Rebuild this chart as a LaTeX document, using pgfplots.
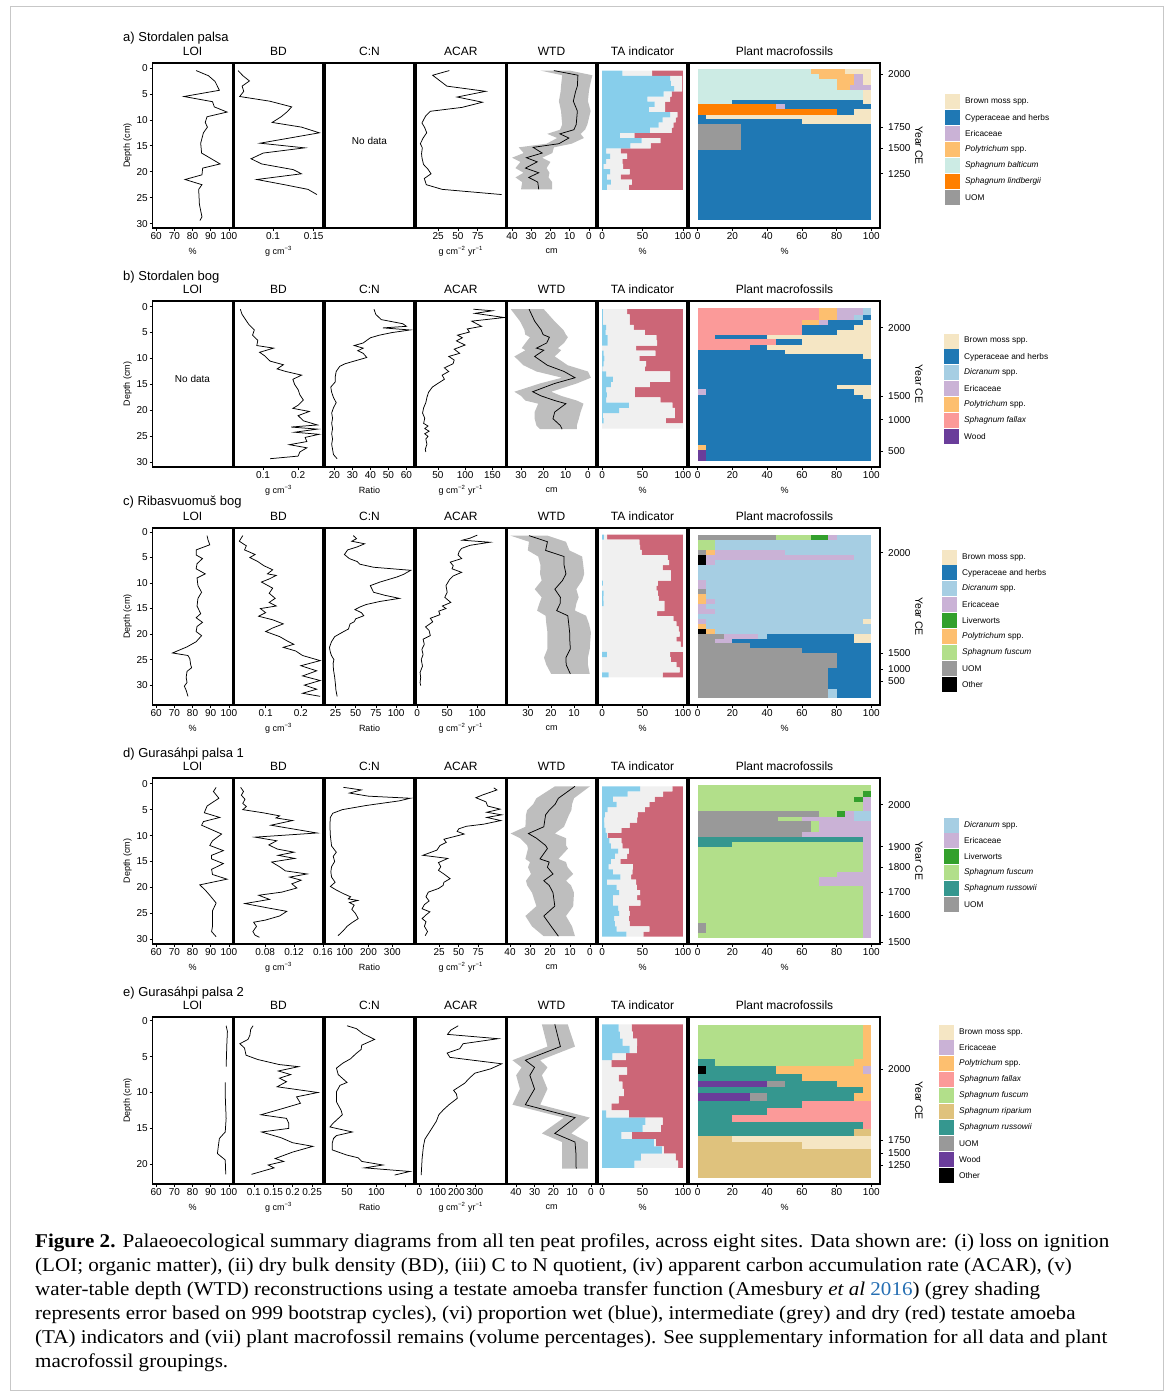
\documentclass[border=0pt]{standalone}
\usepackage{pgfplots}
\pgfplotsset{compat=1.18}
\usepackage{pgfplotstable}
\usepackage{fontspec}
\setmainfont{Liberation Sans}
\newfontfamily\capfont[FakeStretch=1.08]{Liberation Serif}

\definecolor{bro}{RGB}{245,230,196}
\definecolor{cyp}{RGB}{31,120,180}
\definecolor{dic}{RGB}{166,206,227}
\definecolor{eri}{RGB}{202,178,214}
\definecolor{liv}{RGB}{51,160,44}
\definecolor{pol}{RGB}{253,191,111}
\definecolor{bal}{RGB}{204,235,228}
\definecolor{lin}{RGB}{255,127,0}
\definecolor{uom}{RGB}{153,153,153}
\definecolor{fal}{RGB}{251,154,153}
\definecolor{woo}{RGB}{106,61,154}
\definecolor{fus}{RGB}{178,223,138}
\definecolor{rus}{RGB}{53,151,143}
\definecolor{rip}{RGB}{223,194,125}
\definecolor{oth}{RGB}{0,0,0}
\definecolor{wet}{RGB}{135,206,235}
\definecolor{mid}{RGB}{240,240,240}
\definecolor{dry}{RGB}{204,102,119}
\definecolor{band}{RGB}{190,190,190}
\definecolor{link}{RGB}{37,110,178}

\newcommand\tkf{\fontsize{10}{12}\selectfont}
\newcommand\ttlf{\fontsize{12}{14}\selectfont}
\newcommand\unf{\fontsize{9}{11}\selectfont}
\newcommand\lgf{\fontsize{8.3}{10}\selectfont}
\newcommand\rlf{\fontsize{13}{15}\selectfont}
\newcommand\yrf{\fontsize{10.5}{12}\selectfont}

\newcommand\R[5]{\addplot[fill=#1,draw=none] coordinates {(#2,#4) (#3,#4) (#3,#5) (#2,#5)};}

\pgfplotsset{
 base/.style={scale only axis, y dir=reverse, axis line style={line width=1.4pt},
  tick style={black, line width=0.6pt}, tick align=outside, major tick length=3pt,
  xtick=\empty, ytick=\empty, xtick pos=bottom, ytick pos=left, clip mode=individual,
  xticklabel style={font=\tkf, inner sep=0pt, yshift=-1pt},
  yticklabel style={font=\tkf, inner sep=0pt},
  title style={font=\ttlf, at={(axis description cs:0.5,1)}, anchor=center, yshift=6pt},
  xlabel style={font=\unf, at={(axis description cs:0.5,0)}, anchor=center, yshift=-23pt},
  no markers, axis on top},
 pos/.style 2 args={at={(#1pt,-#2pt)}, anchor=north west},
 rowa/.style={height=165pt, ymin=-0.96, ymax=30.85},
 rowb/.style={height=166pt, ymin=-1.08, ymax=30.9},
 rowc/.style={height=177pt, ymin=-0.79, ymax=33.9},
 rowd/.style={height=166pt, ymin=-1.1, ymax=30.9},
 rowe/.style={height=167pt, ymin=-0.52, ymax=22.75},
 loi/.style={width=80pt, xmin=58, xmax=102, title=LOI, ylabel={Depth (cm)},
  ylabel style={font=\unf, at={(axis description cs:0,0.5)}, anchor=center, yshift=25pt},
  yticklabel style={xshift=-1.5pt}},
 loix/.style={xtick={60,70,80,90,100}, xticklabels={60,70,80,90,100}, xlabel={\%}},
 y30/.style={ytick={0,5,10,15,20,25,30}, yticklabels={0,5,10,15,20,25,30}},
 bd/.style={width=89pt, title=BD, xlabel={g cm\textsuperscript{−3}}},
 cn/.style={width=89pt, title=C:N, xlabel={Ratio}},
 acar/.style={width=89.5pt, title=ACAR, xlabel={g cm\textsuperscript{−2} yr\textsuperscript{−1}}},
 wtd/.style={width=89pt, title=WTD, xlabel={cm}, x dir=reverse},
 ta/.style={width=89pt, title=TA indicator, xlabel={\%}, xmin=-5, xmax=105, xtick={0,50,100}, xticklabels={0,50,100}, xbar stacked, bar width=1},
 pm/.style={width=191pt, title=Plant macrofossils, xlabel={\%}, xmin=-5, xmax=105, xtick={0,20,40,60,80,100}, xticklabels={0,20,40,60,80,100}, ytick pos=right, yticklabel pos=right, yticklabel style={xshift=5pt}},
 ln/.style={black, line width=0.75pt},
}

% ---------- WTD line tables (depth, reconstructed WTD)
\pgfplotstableread[row sep=\\]{d w\\
0.5 18.2\\ 1.4 5.7\\ 3.5 6.0\\ 4.5 6.9\\ 6.4 8.1\\ 8.3 6.0\\ 10.9 6.6\\ 11.9 7.8\\ 12.7 15.1\\ 13.5 10.4\\ 14.6 15.6\\ 15.3 29.0\\
16.4 24.3\\ 17.3 32.5\\ 18.1 26.9\\ 19.3 33.0\\ 20.2 26.1\\ 21.1 31.3\\ 22.0 26.6\\ 23.4 26.1\\}\WTDa
\pgfplotstableread[row sep=\\]{d w\\
0.5 26.4\\ 2.8 23.9\\ 4.5 21\\ 5.4 20.1\\ 5.9 17.3\\ 7.0 18.5\\ 8.0 23.1\\ 8.4 19.8\\ 9.6 23.9\\ 11.3 18.2\\ 12.5 10.7\\ 13.7 5.8\\
14.8 14.9\\ 16.4 24.8\\ 17.2 21\\ 18.1 14.9\\ 18.7 9.9\\ 20.3 14.9\\ 21.6 15.7\\ 22.9 12.4\\ 23.6 11.6\\}\WTDb
\pgfplotstableread[row sep=\\]{d w\\
0.7 29.5\\ 1.9 21.5\\ 3.6 22.3\\ 4.8 14.3\\ 6.5 14.3\\ 8.2 13.5\\ 9.5 15\\ 11.2 18.3\\ 12.8 15.9\\ 14.0 16\\ 15.4 17.5\\ 16.4 12.7\\
18.0 12.3\\ 19.7 11.9\\ 21.5 11.8\\ 22.9 11.6\\ 24.6 13.5\\ 26.0 13.4\\ 27.8 11.6\\}\WTDc
\pgfplotstableread[row sep=\\]{d w\\
0.5 7.5\\ 2.8 15.8\\ 4.0 17.5\\ 5.1 20.4\\ 6.0 22.2\\ 8.3 23.1\\ 9.6 30.8\\ 10.5 26.8\\ 11.9 22.2\\ 12.5 21.3\\ 14.5 25\\ 15.1 20.4\\
16.1 21.3\\ 17.4 18.5\\ 18.7 23.1\\ 19.6 20.4\\ 21.0 18.5\\ 23.6 17.6\\ 25.5 23.1\\ 27.5 19.4\\ 29.4 15.8\\}\WTDd
\pgfplotstableread[row sep=\\]{d w\\
0.5 19.3\\ 3.6 16.3\\ 5.5 35\\ 6.5 30.1\\ 7.6 32.6\\ 9.5 30.1\\ 11.7 35\\ 13.5 8.5\\ 15.7 19.3\\ 16.9 8.5\\ 18.5 8\\ 20.6 7.9\\}\WTDe

% ---------- TA tables (depth, wet, intermediate, dry)
\pgfplotstableread[row sep=\\]{d b g r\\
1 25 37 38\\ 2 84 15 1\\ 3 85 14 1\\ 4 89 10 1\\ 5 76 10 14\\ 6 56 28 16\\ 7 65 13 22\\ 8 58 20 22\\ 9 84 9 7\\
10 75 16 9\\ 11 70 18 12\\ 12 59 27 14\\ 13 22 18 60\\ 14 49 23 28\\ 15 35 25 40\\ 16 5 18 77\\ 17 10 21 69\\
18 5 20 75\\ 19 2 24 74\\ 20 10 24 66\\ 21 6 17 77\\ 22 11 26 63\\ 23 6 27 67\\}\TAa
\pgfplotstableread[row sep=\\]{d b g r\\
1 1 30 69\\ 2 1 33 66\\ 3 1 33 66\\ 4 5 34 61\\ 5 4.5 48.5 47\\ 6 7 60 33\\ 7 7 61 32\\ 8 0 42 58\\ 9 2 64 34\\
10 3 43 54\\ 11 2 52.5 45.5\\ 12 0.5 52.5 47\\ 13 5 79 16\\ 14 13.5 70.5 16\\ 15 11 48 41\\ 16 5 35.5 59.5\\
17 6 34.5 59.5\\ 18 5 67 28\\ 19 33 54 13\\ 20 21 69 10\\ 21 1 89 10\\ 22 2 77 21\\ 23 0 100 0\\}\TAb
\pgfplotstableread[row sep=\\]{d b g r\\
1 2.3 4.1 93.6\\ 2 0 46 54\\ 3 0 47 53\\ 4 0 49 51\\ 5 0 81 19\\ 6 0 83 17\\ 7 0 75 25\\ 8 0 85 15\\ 9 0 85 15\\
10 1 68 31\\ 11 0 67 33\\ 12 2 67 31\\ 13 1.5 68.5 30\\ 14 2 75 23\\ 15 0 77 23\\ 16 0 68 32\\ 17 0 88 12\\
18 0 92 8\\ 19 0 94.5 5.5\\ 20 0 96 4\\ 21 0 92 8\\ 22 0 97 3\\ 23 0 100 0\\ 24 6 78 16\\ 25 0 85 15\\ 26 0 92 8\\
27 0 96 4\\ 28 8 67 25\\}\TAc
\pgfplotstableread[row sep=\\]{d b g r\\
1 47 40 13\\ 2 31.5 44 24.5\\ 3 13.5 51.5 35\\ 4 18 40.5 41.5\\ 5 7 46 47\\ 6 3.5 40.5 56\\ 7 2.5 41 56.5\\
8 3 31 66\\ 9 4.5 19.5 76\\ 10 6 1 93\\ 11 9 15 76\\ 12 11 14 75\\ 13 20 13 67\\ 14 16 15 69\\ 15 11 11.5 77.5\\
16 8 30 62\\ 17 13.5 24 62.5\\ 18 22.5 13.5 64\\ 19 6 36 58\\ 20 18 25 57\\ 21 21 26 53\\ 22 13.5 30 56.5\\
23 13.5 34 52.5\\ 24 20 13 67\\ 25 21 13 66\\ 26 15 18 67\\ 27 16 18 66\\ 28 18 40.5 41.5\\ 29 30 21 49\\}\TAd
\pgfplotstableread[row sep=\\]{d b g r\\
1 20.5 16 63.5\\ 2 22 16 62\\ 3 25.5 18 56.5\\ 4 34 9 57\\ 5 12.7 16.8 70.5\\ 6 0 11.4 88.6\\ 7 0 31 69\\
8 0 20.5 79.5\\ 9 0 25 75\\ 10 0 27 73\\ 11 0 20.5 79.5\\ 12 0 11.4 88.6\\ 13 5 28 67\\ 14 53.6 21.4 25\\
15 50 22.7 27.3\\ 16 24 12.8 63.2\\ 17 64 2.4 33.6\\ 18 74 2.4 23.6\\ 19 48 43 9\\ 20 40 54 6\\}\TAe

\newcommand\LE[3]{\fill[#1] (0,{#2*15.9-7.5}) rectangle (15,{#2*15.9+7.5});
 \node[anchor=west,inner sep=0pt,font=\lgf] at (20,{#2*15.9}) {#3};}

\begin{document}
\begin{tikzpicture}
\path[use as bounding box] (0pt,0pt) rectangle (1170pt,-1394pt);
\draw[black!22, line width=1pt] (10.5pt,-6.5pt) rectangle (1163pt,-1390.5pt);

% ================= ROW A =================
\node[anchor=west,inner sep=0pt,font=\rlf] at (123pt,-38pt) {a) Stordalen palsa};
\begin{axis}[base,rowa,pos={152.5}{63},loi,loix,y30]
\addplot[ln] table[x index=1,y index=0,row sep=\\]{0.5 82\\1.5 88.8\\2.6 92.4\\4.3 94.8\\5.5 75.3\\6.5 91\\7.5 92\\8.5 99\\9.4 88\\10.5 87\\11.4 88.2\\12.5 86\\14.5 84.5\\16.4 85\\18.5 95.2\\19.3 85.6\\20.6 85.2\\21.5 75.9\\22.5 85.2\\23.4 83.4\\26.3 83.8\\28.7 85.2\\29.4 84.1\\};
\end{axis}
\begin{axis}[base,rowa,pos={234}{63},bd,xmin=0.052,xmax=0.1615,xtick={0.1,0.15},xticklabels={0.1,0.15}]
\addplot[ln] table[x index=1,y index=0,row sep=\\]{0.5 0.057\\1.5 0.063\\2.5 0.071\\3.5 0.062\\4.5 0.064\\5.5 0.059\\6.4 0.096\\7.5 0.123\\8.5 0.117\\9.4 0.110\\10.5 0.099\\11.4 0.135\\12.5 0.157\\14.5 0.084\\15.4 0.139\\16.4 0.088\\17.5 0.073\\18.5 0.086\\19.6 0.125\\20.4 0.135\\21.5 0.080\\22.5 0.114\\23.4 0.143\\24.4 0.154\\};
\end{axis}
\begin{axis}[base,rowa,pos={325}{63},width=89pt,title=C:N,xmin=0,xmax=1]
\node[font=\tkf] at (axis description cs:0.5,0.53) {No data};
\end{axis}
\begin{axis}[base,rowa,pos={416}{63},acar,xmin=-3,xmax=110,xtick={25,50,75},xticklabels={25,50,75}]
\addplot[ln] table[x index=1,y index=0,row sep=\\]{0.5 39\\1.4 18\\3.5 36\\4.5 85\\5.6 49\\6.6 81\\7.6 55\\8.35 15\\9.3 9\\10.6 4.5\\11.5 8\\12.5 10.5\\13.5 6\\14.6 2.5\\15.4 5\\16.5 4\\17.3 4.5\\18.6 6.5\\19.5 12\\20.4 16\\21.3 7.5\\22.5 10\\23.4 30\\24.4 105\\};
\end{axis}
\begin{axis}[base,rowa,pos={507}{63},wtd,xmin=-3.7,xmax=42.6,xtick={0,10,20,30,40},xticklabels={0,10,20,30,40}]
\addplot[fill=band,draw=none] coordinates {(25.2,0.5)(13.9,1.4)(14.5,3.5)(14.7,4.5)(15.6,6.4)(14.5,8.3)(13.9,10.9)(15,11.9)(21.7,12.7)(16.5,13.5)(22,14.6)(36.5,15.3)(33.9,16.4)(40,17.3)(35.6,18.1)(38.2,19.3)(34,20.2)(38.2,21.1)(34.7,22.0)(35.3,23.4)
(19.1,23.4)(19.1,22.0)(21,21.1)(20.5,20.2)(22,19.3)(20,18.1)(24.3,17.3)(19,16.4)(18.2,15.3)(9,14.6)(2.6,13.5)(4.3,12.7)(2,11.9)(0.8,10.9)(-0.9,8.3)(0.5,6.4)(0,4.5)(-0.5,3.5)(-1.8,1.4)(10,0.5)};
\addplot[ln] table[x=w,y=d]{\WTDa};
\end{axis}
\begin{axis}[base,rowa,pos={598}{63},ta]
\addplot[fill=wet,draw=none] table[x=b,y=d]{\TAa};
\addplot[fill=mid,draw=none] table[x=g,y=d]{\TAa};
\addplot[fill=dry,draw=none] table[x=r,y=d]{\TAa};
\end{axis}
\begin{axis}[base,rowa,pos={689}{63},pm,ytick={1.17,11.38,15.45,20.36},yticklabels={2000,1750,1500,1250}]
\R{bal}{0}{65}{0.2}{1.2}\R{pol}{65}{85}{0.2}{1.2}\R{bro}{85}{100}{0.2}{1.2}
\R{bal}{0}{70}{1.2}{2.2}\R{pol}{70}{90}{1.2}{2.2}\R{eri}{90}{95}{1.2}{2.2}\R{bro}{95}{100}{1.2}{2.2}
\R{bal}{0}{80}{2.2}{3.2}\R{pol}{80}{90}{2.2}{3.2}\R{eri}{90}{95}{2.2}{3.2}\R{bro}{95}{100}{2.2}{3.2}
\R{bal}{0}{80}{3.2}{4.2}\R{pol}{80}{88}{3.2}{4.2}\R{eri}{88}{100}{3.2}{4.2}
\R{bal}{0}{95}{4.2}{6.2}\R{bro}{95}{100}{4.2}{6.2}
\R{bal}{0}{20}{6.2}{7}\R{cyp}{20}{95}{6.2}{7}\R{bro}{95}{100}{6.2}{7}
\R{lin}{0}{45}{7}{7.9}\R{eri}{45}{50}{7}{7.9}\R{cyp}{50}{100}{7}{7.9}
\R{lin}{0}{80}{7.9}{9}\R{cyp}{80}{90}{7.9}{9}\R{bro}{90}{100}{7.9}{9}
\R{cyp}{0}{5}{9}{9.9}\R{bro}{5}{100}{9}{9.9}
\R{cyp}{0}{60}{9.9}{10.8}\R{bro}{60}{100}{9.9}{10.8}
\R{uom}{0}{25}{10.8}{15.9}\R{cyp}{25}{100}{10.8}{15.9}
\R{cyp}{0}{100}{15.9}{29.4}
\node[rotate=-90,font=\yrf] at ([xshift=39pt]axis description cs:1,0.5) {Year CE};
\end{axis}
\begin{scope}[shift={(945pt,-102pt)},x=1pt,y=-1pt]
\LE{bro}{0}{Brown moss spp.}\LE{cyp}{1}{Cyperaceae and herbs}\LE{eri}{2}{Ericaceae}
\LE{pol}{3}{\textit{Polytrichum} spp.}\LE{bal}{4}{\textit{Sphagnum balticum}}\LE{lin}{5}{\textit{Sphagnum lindbergii}}\LE{uom}{6}{UOM}
\end{scope}

% ================= ROW B =================
\node[anchor=west,inner sep=0pt,font=\rlf] at (123pt,-277pt) {b) Stordalen bog};
\begin{axis}[base,rowb,pos={152.5}{301},loi,y30,title=LOI]
\node[font=\tkf] at (axis description cs:0.5,0.53) {No data};
\end{axis}
\begin{axis}[base,rowb,pos={234}{301},bd,xmin=0.017,xmax=0.271,xtick={0.1,0.2},xticklabels={0.1,0.2}]
\addplot[ln] table[x index=1,y index=0,row sep=\\]{0.5 0.035\\1.5 0.04\\2.5 0.05\\3.5 0.06\\4.5 0.075\\5.5 0.07\\6.5 0.085\\7.5 0.082\\8.0 0.13\\8.8 0.09\\9.5 0.105\\10.5 0.12\\11.2 0.158\\12.0 0.14\\12.5 0.165\\13.2 0.21\\14.0 0.185\\15.0 0.19\\16.0 0.2\\17.0 0.205\\18.0 0.215\\19.0 0.2\\19.6 0.185\\20.2 0.232\\21.0 0.2\\22.0 0.215\\22.8 0.255\\23.2 0.18\\23.6 0.255\\24.2 0.19\\24.6 0.26\\25.2 0.22\\26.0 0.225\\26.6 0.175\\27.2 0.225\\28.0 0.205\\28.8 0.2\\29.3 0.12\\};
\end{axis}
\begin{axis}[base,rowb,pos={325}{301},cn,xmin=14.8,xmax=64.2,xtick={20,30,40,50,60},xticklabels={20,30,40,50,60}]
\addplot[ln] table[x index=1,y index=0,row sep=\\]{0.5 42\\1.5 43\\2.5 46\\3.3 58\\3.8 60\\4.1 47\\4.5 62\\5.0 52\\5.5 45\\6.0 40\\6.5 38\\7.0 36\\7.5 31\\8.0 36\\8.5 33\\9.0 36\\9.8 38\\10.4 32\\11.0 26\\11.5 23\\12.5 21\\13.5 20.5\\14.5 20.5\\15.5 18\\16.5 18.5\\17.5 19.5\\18.5 21\\19.5 19.5\\20.5 18.5\\21.5 19\\22.5 18.5\\23.5 19\\24.5 18.5\\25.5 19\\26.5 18.5\\27.5 19\\28.5 19.5\\29.3 21.5\\};
\end{axis}
\begin{axis}[base,rowb,pos={416}{301},acar,xmin=10,xmax=174,xtick={50,100,150},xticklabels={50,100,150}]
\addplot[ln] table[x index=1,y index=0,row sep=\\]{0.5 115\\0.8 150\\1.3 118\\2.1 172\\2.8 112\\3.8 130\\4.3 104\\4.9 108\\5.5 86\\6.0 95\\6.6 84\\7.4 100\\8.2 80\\9.0 90\\9.6 70\\10.3 80\\11.0 78\\11.8 62\\12.5 70\\13.2 58\\14.0 62\\14.8 50\\15.5 40\\16.5 33\\17.5 30\\18.5 28\\19.5 24\\20.5 22\\21.5 26\\22.5 24\\23.0 32\\23.5 26\\24.0 34\\24.5 26\\25.0 32\\25.5 28\\26.5 30\\27.5 27\\28.0 28\\};
\end{axis}
\begin{axis}[base,rowb,pos={507}{301},wtd,xmin=-3.6,xmax=36.3,xtick={0,10,20,30},xticklabels={0,10,20,30}]
\addplot[fill=band,draw=none] coordinates {(34.6,0.5)(30.5,2.8)(28.5,4.5)(28.1,5.4)(26,5.9)(28,7.0)(29.7,8.0)(28,8.4)(33,9.6)(28.9,11.3)(23.1,12.5)(11.6,13.7)(21.5,14.8)(33,16.4)(30,17.2)(28.1,18.1)(22.3,18.7)(23.9,20.3)(23.9,21.6)(23.1,22.9)(21.5,23.6)
(5,23.6)(5,22.9)(4.1,21.6)(3.3,20.3)(2,18.7)(5,18.1)(12,17.2)(16.5,16.4)(5,14.8)(-1.3,13.7)(0,12.5)(9.1,11.3)(14.9,9.6)(12,8.4)(13.5,8.0)(10.7,7.0)(9,5.9)(9.9,5.4)(11,4.5)(15,2.8)(19.8,0.5)};
\addplot[ln] table[x=w,y=d]{\WTDb};
\end{axis}
\begin{axis}[base,rowb,pos={598}{301},ta]
\addplot[fill=wet,draw=none] table[x=b,y=d]{\TAb};
\addplot[fill=mid,draw=none] table[x=g,y=d]{\TAb};
\addplot[fill=dry,draw=none] table[x=r,y=d]{\TAb};
\end{axis}
\begin{axis}[base,rowb,pos={689}{301},pm,ytick={4.05,17.3,21.8,27.9},yticklabels={2000,1500,1000,500}]
\R{fal}{0}{70}{0.35}{1.52}\R{pol}{70}{80}{0.35}{1.52}\R{eri}{80}{95}{0.35}{1.52}\R{dic}{95}{100}{0.35}{1.52}
\R{fal}{0}{70}{1.52}{2.49}\R{pol}{70}{80}{1.52}{2.49}\R{eri}{80}{90}{1.52}{2.49}\R{dic}{90}{95}{1.52}{2.49}\R{cyp}{95}{100}{1.52}{2.49}
\R{fal}{0}{60}{2.49}{3.59}\R{pol}{60}{70}{2.49}{3.59}\R{eri}{70}{75}{2.49}{3.59}\R{cyp}{75}{95}{2.49}{3.59}\R{bro}{95}{100}{2.49}{3.59}
\R{fal}{0}{60}{3.59}{4.5}\R{cyp}{60}{90}{3.59}{4.5}\R{bro}{90}{100}{3.59}{4.5}
\R{fal}{0}{60}{4.5}{5.41}\R{cyp}{60}{80}{4.5}{5.41}\R{bro}{80}{100}{4.5}{5.41}
\R{fal}{0}{10}{5.41}{6.19}\R{cyp}{10}{40}{5.41}{6.19}\R{bro}{40}{100}{5.41}{6.19}
\R{fal}{0}{45}{6.19}{7.36}\R{cyp}{45}{60}{6.19}{7.36}\R{bro}{60}{100}{6.19}{7.36}
\R{fal}{0}{30}{7.36}{8.33}\R{cyp}{30}{40}{7.36}{8.33}\R{bro}{40}{100}{7.36}{8.33}
\R{cyp}{0}{50}{8.33}{9.17}\R{bro}{50}{100}{8.33}{9.17}
\R{cyp}{0}{95}{9.17}{10.08}\R{bro}{95}{100}{9.17}{10.08}
\R{cyp}{0}{100}{10.08}{15.15}
\R{cyp}{0}{80}{15.15}{15.92}\R{bro}{80}{100}{15.15}{15.92}
\R{eri}{0}{5}{15.92}{16.96}\R{cyp}{5}{90}{15.92}{16.96}\R{bro}{90}{100}{15.92}{16.96}
\R{cyp}{0}{95}{16.96}{17.74}\R{bro}{95}{100}{16.96}{17.74}
\R{cyp}{0}{100}{17.74}{26.7}
\R{pol}{0}{5}{26.7}{27.67}\R{cyp}{5}{100}{26.7}{27.67}
\R{woo}{0}{5}{27.67}{29.75}\R{cyp}{5}{100}{27.67}{29.75}
\node[rotate=-90,font=\yrf] at ([xshift=39pt]axis description cs:1,0.5) {Year CE};
\end{axis}
\begin{scope}[shift={(944pt,-341pt)},x=1pt,y=-1pt]
\LE{bro}{0}{Brown moss spp.}\LE{cyp}{1}{Cyperaceae and herbs}\LE{dic}{2}{\textit{Dicranum} spp.}\LE{eri}{3}{Ericaceae}
\LE{pol}{4}{\textit{Polytrichum} spp.}\LE{fal}{5}{\textit{Sphagnum fallax}}\LE{woo}{6}{Wood}
\end{scope}

% ================= ROW C =================
\node[anchor=west,inner sep=0pt,font=\rlf] at (123pt,-502pt) {c) Ribasvuomuš bog};
\begin{axis}[base,rowc,pos={152.5}{528},loi,loix,y30]
\addplot[ln] table[x index=1,y index=0,row sep=\\]{0.7 88\\1.5 88.5\\2.5 89.5\\3.5 82\\4.5 82\\5.2 85.5\\6.2 82.5\\7.2 82\\8.2 87\\9.0 82.5\\10.5 83\\11.8 85\\13.0 83\\14.5 82.5\\16.0 84.5\\16.8 82\\17.7 85.5\\18.5 82.5\\19.5 82\\20.3 85\\21.5 82\\22.5 77\\23.7 69\\24.2 77.5\\24.8 78.5\\26.0 79\\26.6 79.5\\27.3 77\\28.5 76.5\\29.5 77\\30.2 75.5\\31.0 76.5\\32.2 77.5\\};
\end{axis}
\begin{axis}[base,rowc,pos={234}{528},bd,xmin=0.01,xmax=0.263,xtick={0.1,0.2},xticklabels={0.1,0.2}]
\addplot[ln] table[x index=1,y index=0,row sep=\\]{0.7 0.035\\1.8 0.025\\2.7 0.045\\3.5 0.04\\4.4 0.07\\5.0 0.055\\5.8 0.078\\6.6 0.095\\7.4 0.12\\8.2 0.105\\8.5 0.13\\9.2 0.11\\9.8 0.088\\11.0 0.12\\12.0 0.11\\13.0 0.127\\13.8 0.11\\14.5 0.13\\15.0 0.085\\15.8 0.1\\16.5 0.08\\17.2 0.12\\18.0 0.15\\18.8 0.12\\19.5 0.1\\20.5 0.14\\21.3 0.16\\22.0 0.18\\22.6 0.15\\23.3 0.185\\24.2 0.205\\25.2 0.255\\26.2 0.2\\27.2 0.245\\28.2 0.205\\29.1 0.255\\30.0 0.21\\30.8 0.245\\31.6 0.205\\32.2 0.255\\};
\end{axis}
\begin{axis}[base,rowc,pos={325}{528},cn,xmin=12,xmax=122,xtick={25,50,75,100},xticklabels={25,50,75,100}]
\addplot[ln] table[x index=1,y index=0,row sep=\\]{0.7 47\\1.3 51\\1.8 45\\2.3 61\\2.9 52\\3.5 40\\4.4 36\\5.2 42\\5.8 52\\6.3 55\\6.9 72\\7.5 118\\8.3 109\\8.8 101\\9.8 80\\10.5 68\\11.8 72\\12.4 86\\13.0 104\\13.6 80\\14.2 63\\14.7 55\\15.2 49\\15.8 57\\16.4 60\\17.0 50\\17.6 48\\18.0 43\\19.0 41\\19.6 34\\20.5 24\\21.5 20\\22.6 17.5\\23.5 18.5\\24.2 20\\25.0 23\\25.8 22\\27.0 22.5\\28.5 24\\30.0 25\\31.0 25.5\\32.2 27\\};
\end{axis}
\begin{axis}[base,rowc,pos={416}{528},acar,xmin=-1.75,xmax=146.75,xtick={0,50,100},xticklabels={0,50,100}]
\addplot[ln] table[x index=1,y index=0,row sep=\\]{0.6 100\\1.2 88\\1.6 75\\2.0 121\\2.6 88\\3.2 74\\3.8 70\\4.5 68\\5.2 74\\5.9 55\\6.6 60\\7.2 58\\7.9 74\\8.6 60\\9.3 54\\10.5 48\\11.8 50\\12.8 46\\13.8 56\\14.5 42\\15.0 48\\15.5 36\\16.2 38\\16.9 22\\17.6 26\\18.6 14\\19.3 20\\20.3 22\\21.0 10\\22.0 12\\23.0 8\\24.0 10\\25.0 7\\26.3 9\\27.5 5\\28.5 6\\29.5 5\\30.1 6\\};
\end{axis}
\begin{axis}[base,rowc,pos={507}{528},wtd,xmin=0.5,xmax=39,xtick={10,20,30},xticklabels={10,20,30}]
\addplot[fill=band,draw=none] coordinates {(37.5,0.7)(29.5,1.9)(30,3.6)(25.5,4.8)(24.5,6.5)(24.7,8.2)(24,9.5)(27,11.2)(24,12.8)(25,14.0)(26,15.4)(22.3,16.4)(22,18.0)(21.5,19.7)(21.5,21.5)(21.5,22.9)(23,24.6)(22,26.0)(19.9,27.8)
(3.2,27.8)(4,26.0)(4,24.6)(3.2,22.9)(3,21.5)(2.7,19.7)(3.5,18.0)(4.8,16.4)(9.6,15.4)(9,14.0)(8,12.8)(9,11.2)(6.5,9.5)(5.6,8.2)(6,6.5)(6.5,4.8)(12,3.6)(13.5,1.9)(21.5,0.7)};
\addplot[ln] table[x=w,y=d]{\WTDc};
\end{axis}
\begin{axis}[base,rowc,pos={598}{528},ta]
\addplot[fill=wet,draw=none] table[x=b,y=d]{\TAc};
\addplot[fill=mid,draw=none] table[x=g,y=d]{\TAc};
\addplot[fill=dry,draw=none] table[x=r,y=d]{\TAc};
\end{axis}
\begin{axis}[base,rowc,pos={689}{528},pm,ytick={4.05,23.7,26.9,29.25},yticklabels={2000,1500,1000,500}]
\R{uom}{0}{45}{0.58}{1.56}\R{fus}{45}{65}{0.58}{1.56}\R{liv}{65}{75}{0.58}{1.56}\R{eri}{75}{80}{0.58}{1.56}\R{dic}{80}{100}{0.58}{1.56}
\R{fus}{0}{10}{1.56}{3.52}\R{dic}{10}{100}{1.56}{3.52}
\R{uom}{0}{5}{3.52}{4.5}\R{pol}{5}{10}{3.52}{4.5}\R{eri}{10}{50}{3.52}{4.5}\R{dic}{50}{100}{3.52}{4.5}
\R{oth}{0}{5}{4.5}{5.48}\R{eri}{5}{90}{4.5}{5.48}\R{dic}{90}{100}{4.5}{5.48}
\R{oth}{0}{5}{5.48}{6.46}\R{eri}{5}{10}{5.48}{6.46}\R{dic}{10}{100}{5.48}{6.46}
\R{dic}{0}{100}{6.46}{9.34}
\R{eri}{0}{5}{9.34}{11.17}\R{dic}{5}{100}{9.34}{11.17}
\R{uom}{0}{5}{11.17}{12.15}\R{dic}{5}{100}{11.17}{12.15}
\R{pol}{0}{5}{12.15}{13.13}\R{dic}{5}{100}{12.15}{13.13}
\R{pol}{0}{5}{13.13}{14.11}\R{eri}{5}{10}{13.13}{14.11}\R{dic}{10}{100}{13.13}{14.11}
\R{eri}{0}{5}{14.11}{15.09}\R{dic}{5}{100}{14.11}{15.09}
\R{eri}{0}{10}{15.09}{16.14}\R{dic}{10}{100}{15.09}{16.14}
\R{dic}{0}{100}{16.14}{17.05}
\R{eri}{0}{5}{17.05}{18.03}\R{dic}{5}{95}{17.05}{18.03}\R{bro}{95}{100}{17.05}{18.03}
\R{pol}{0}{5}{18.03}{19.01}\R{dic}{5}{100}{18.03}{19.01}
\R{oth}{0}{5}{19.01}{19.99}\R{pol}{5}{10}{19.01}{19.99}\R{dic}{10}{100}{19.01}{19.99}
\R{uom}{0}{15}{19.99}{20.97}\R{eri}{15}{35}{19.99}{20.97}\R{dic}{35}{40}{19.99}{20.97}\R{cyp}{40}{90}{19.99}{20.97}\R{bro}{90}{100}{19.99}{20.97}
\R{uom}{0}{10}{20.97}{21.82}\R{eri}{10}{20}{20.97}{21.82}\R{cyp}{20}{90}{20.97}{21.82}\R{bro}{90}{100}{20.97}{21.82}
\R{uom}{0}{30}{21.82}{22.8}\R{cyp}{30}{100}{21.82}{22.8}
\R{uom}{0}{60}{22.8}{23.78}\R{cyp}{60}{100}{22.8}{23.78}
\R{uom}{0}{80}{23.78}{26.66}\R{cyp}{80}{100}{23.78}{26.66}
\R{uom}{0}{75}{26.66}{30.77}\R{cyp}{75}{100}{26.66}{30.77}
\R{uom}{0}{75}{30.77}{32.6}\R{dic}{75}{80}{30.77}{32.6}\R{cyp}{80}{100}{30.77}{32.6}
\node[rotate=-90,font=\yrf] at ([xshift=39pt]axis description cs:1,0.5) {Year CE};
\end{axis}
\begin{scope}[shift={(942pt,-557pt)},x=1pt,y=-1pt]
\LE{bro}{0}{Brown moss spp.}\LE{cyp}{1}{Cyperaceae and herbs}\LE{dic}{2}{\textit{Dicranum} spp.}\LE{eri}{3}{Ericaceae}
\LE{liv}{4}{Liverworts}\LE{pol}{5}{\textit{Polytrichum} spp.}\LE{fus}{6}{\textit{Sphagnum fuscum}}\LE{uom}{7}{UOM}\LE{oth}{8}{Other}
\end{scope}

% ================= ROW D =================
\node[anchor=west,inner sep=0pt,font=\rlf] at (123pt,-754pt) {d) Gurasáhpi palsa 1};
\begin{axis}[base,rowd,pos={152.5}{778},loi,loix,y30]
\addplot[ln] table[x index=1,y index=0,row sep=\\]{0.7 93\\1.5 91.5\\2.8 94.5\\4.3 88\\5.6 86.5\\6.5 95\\7.3 86\\8.0 85\\9.7 96\\11.0 91\\11.9 89.5\\12.9 97\\13.8 90.5\\14.5 90.5\\15.4 97\\16.5 90.5\\17.5 91\\18.4 99\\19.5 84\\20.5 87\\21.5 89.5\\23.0 93\\24.5 91\\26.0 91\\27.5 91\\28.5 90.5\\29.5 93\\};
\end{axis}
\begin{axis}[base,rowd,pos={234}{778},bd,xmin=0.0368,xmax=0.1602,xtick={0.08,0.12,0.16},xticklabels={0.08,0.12,0.16}]
\addplot[ln] table[x index=1,y index=0,row sep=\\]{0.7 0.046\\1.5 0.05\\2.2 0.047\\3.0 0.052\\3.8 0.049\\4.4 0.054\\5.0 0.049\\5.6 0.077\\6.2 0.1\\6.6 0.095\\7.1 0.118\\8.0 0.088\\9.5 0.152\\10.3 0.066\\11.0 0.096\\11.8 0.085\\12.6 0.097\\13.2 0.12\\13.8 0.098\\14.4 0.121\\15.1 0.089\\16.1 0.101\\16.8 0.108\\17.4 0.138\\18.0 0.114\\18.6 0.13\\19.3 0.117\\20.1 0.124\\20.9 0.103\\21.5 0.071\\22.3 0.086\\23.1 0.052\\24.0 0.086\\24.6 0.11\\25.5 0.1\\26.3 0.08\\26.7 0.064\\27.5 0.068\\28.5 0.063\\29.2 0.066\\29.6 0.072\\};
\end{axis}
\begin{axis}[base,rowd,pos={325}{778},cn,xmin=17.5,xmax=391,xtick={100,200,300},xticklabels={100,200,300}]
\addplot[ln] table[x index=1,y index=0,row sep=\\]{0.7 95\\1.2 170\\1.8 120\\2.4 200\\2.8 375\\3.3 330\\4.2 190\\5.0 90\\5.7 50\\6.5 40\\8.0 38\\10.0 40\\12.0 45\\13.2 65\\14.0 52\\15.0 58\\16.0 45\\17.0 42\\18.0 45\\19.0 60\\19.8 40\\20.5 65\\21.2 95\\21.8 125\\22.2 115\\22.5 155\\22.9 120\\23.4 140\\24.2 130\\25.0 145\\26.0 157\\26.8 130\\27.5 110\\28.3 95\\29.3 72\\};
\end{axis}
\begin{axis}[base,rowd,pos={416}{778},acar,xmin=-4.8,xmax=110,xtick={25,50,75},xticklabels={25,50,75}]
\addplot[ln] table[x index=1,y index=0,row sep=\\]{0.8 95\\1.2 99\\2.2 80\\2.7 72\\3.5 85\\4.3 87\\4.9 103\\5.5 86\\6.0 105\\6.5 86\\7.1 104\\7.8 82\\8.2 60\\8.7 50\\9.2 48\\9.7 57\\10.7 31\\11.3 34\\11.9 26\\12.8 22\\13.8 4\\14.4 36\\15.2 24\\16.0 27\\16.7 24\\17.4 31\\18.3 39\\19.0 31\\19.6 30\\20.2 24\\20.9 11\\21.8 8\\22.6 12\\23.3 6\\24.1 3\\24.7 13\\25.3 8\\26.0 3\\26.6 8\\27.5 6\\28.5 10\\29.3 7\\};
\end{axis}
\begin{axis}[base,rowd,pos={507}{778},wtd,xmin=-3,xmax=41.5,xtick={0,10,20,30,40},xticklabels={0,10,20,30,40}]
\addplot[fill=band,draw=none] coordinates {(17.5,0.5)(26.8,2.8)(28.5,4.0)(31.4,5.1)(32,6.0)(32.3,8.3)(39.7,9.6)(35,10.5)(31.4,11.9)(31,12.5)(32.3,14.5)(30,15.1)(31,16.1)(29.5,17.4)(32,18.7)(31.4,19.6)(29,21.0)(26.8,23.6)(32.3,25.5)(29,27.5)(23.1,29.4)
(7.5,29.4)(9,27.5)(12,25.5)(8.4,23.6)(8,21.0)(9.5,19.6)(12,18.7)(8.4,17.4)(11.2,16.1)(12,15.1)(15.8,14.5)(11,12.5)(12,11.9)(12,10.5)(17.6,9.6)(13,8.3)(10.5,6.0)(9.3,5.1)(9,4.0)(8,2.8)(0,0.5)};
\addplot[ln] table[x=w,y=d]{\WTDd};
\end{axis}
\begin{axis}[base,rowd,pos={598}{778},ta]
\addplot[fill=wet,draw=none] table[x=b,y=d]{\TAd};
\addplot[fill=mid,draw=none] table[x=g,y=d]{\TAd};
\addplot[fill=dry,draw=none] table[x=r,y=d]{\TAd};
\end{axis}
\begin{axis}[base,rowd,pos={689}{778},pm,ytick={4.05,12.13,16.15,20.95,25.4,30.6},yticklabels={2000,1900,1800,1700,1600,1500}]
\R{fus}{0}{100}{0.33}{1.5}
\R{fus}{0}{95}{1.5}{2.47}\R{liv}{95}{100}{1.5}{2.47}
\R{fus}{0}{90}{2.47}{3.44}\R{liv}{90}{95}{2.47}{3.44}\R{eri}{95}{100}{2.47}{3.44}
\R{fus}{0}{95}{3.44}{5.26}\R{eri}{95}{100}{3.44}{5.26}
\R{uom}{0}{70}{5.26}{6.36}\R{fus}{70}{80}{5.26}{6.36}\R{liv}{80}{85}{5.26}{6.36}\R{eri}{85}{90}{5.26}{6.36}\R{dic}{90}{100}{5.26}{6.36}
\R{uom}{0}{46}{6.36}{7.2}\R{fus}{46}{60}{6.36}{7.2}\R{eri}{60}{90}{6.36}{7.2}\R{dic}{90}{100}{6.36}{7.2}
\R{uom}{0}{65}{7.2}{9.28}\R{fus}{65}{70}{7.2}{9.28}\R{eri}{70}{100}{7.2}{9.28}
\R{uom}{0}{60}{9.28}{10.26}\R{eri}{60}{100}{9.28}{10.26}
\R{rus}{0}{95}{10.26}{11.23}\R{eri}{95}{100}{10.26}{11.23}
\R{rus}{0}{20}{11.23}{12.2}\R{fus}{20}{95}{11.23}{12.2}\R{eri}{95}{100}{11.23}{12.2}
\R{fus}{0}{95}{12.2}{17.07}\R{eri}{95}{100}{12.2}{17.07}
\R{fus}{0}{80}{17.07}{18.05}\R{eri}{80}{100}{17.07}{18.05}
\R{fus}{0}{70}{18.05}{19.8}\R{eri}{70}{100}{18.05}{19.8}
\R{fus}{0}{95}{19.8}{26.8}\R{eri}{95}{100}{19.8}{26.8}
\R{uom}{0}{5}{26.8}{28.75}\R{fus}{5}{95}{26.8}{28.75}\R{eri}{95}{100}{26.8}{28.75}
\R{fus}{0}{95}{28.75}{29.73}\R{eri}{95}{100}{28.75}{29.73}
\node[rotate=-90,font=\yrf] at ([xshift=39pt]axis description cs:1,0.5) {Year CE};
\end{axis}
\begin{scope}[shift={(944pt,-825pt)},x=1pt,y=-1pt]
\LE{dic}{0}{\textit{Dicranum} spp.}\LE{eri}{1}{Ericaceae}\LE{liv}{2}{Liverworts}
\LE{fus}{3}{\textit{Sphagnum fuscum}}\LE{rus}{4}{\textit{Sphagnum russowii}}\LE{uom}{5}{UOM}
\end{scope}

% ================= ROW E =================
\node[anchor=west,inner sep=0pt,font=\rlf] at (123pt,-993pt) {e) Gurasáhpi palsa 2};
\begin{axis}[base,rowe,pos={152.5}{1017},loi,loix,ytick={0,5,10,15,20},yticklabels={0,5,10,15,20}]
\addplot[ln] table[x index=1,y index=0,row sep=\\]{0.7 98.5\\1.5 99.2\\3.2 98.9\\6.4 98.5\\};
\addplot[ln] table[x index=1,y index=0,row sep=\\]{8.6 98\\10.4 98\\13.6 98.5\\15.5 98\\16.4 94.8\\17.3 94.3\\18.5 93.7\\19.4 98\\21.4 98.3\\};
\end{axis}
\begin{axis}[base,rowe,pos={234}{1017},bd,xmin=0.049,xmax=0.278,xtick={0.1,0.15,0.2,0.25},xticklabels={0.1,0.15,0.2,0.25}]
\addplot[ln] table[x index=1,y index=0,row sep=\\]{0.7 0.098\\1.2 0.092\\2.0 0.09\\2.6 0.085\\3.2 0.064\\3.8 0.076\\4.8 0.08\\5.4 0.11\\6.1 0.165\\6.4 0.215\\7.0 0.163\\7.5 0.195\\8.0 0.166\\8.5 0.184\\9.2 0.16\\10.0 0.265\\10.6 0.21\\11.5 0.22\\12.3 0.17\\13.1 0.118\\13.6 0.184\\14.3 0.19\\15.0 0.19\\15.5 0.12\\16.3 0.17\\17.0 0.2\\17.5 0.252\\18.3 0.2\\19.2 0.155\\19.6 0.177\\20.1 0.137\\20.5 0.152\\21.4 0.094\\};
\end{axis}
\begin{axis}[base,rowe,pos={325}{1017},cn,xmin=12.5,xmax=164,xtick={50,100,150},xticklabels={50,100,{}}]
\addplot[ln] table[x index=1,y index=0,row sep=\\]{0.7 50\\1.1 66\\1.8 77\\2.6 97\\3.4 75\\4.0 74\\4.6 65\\5.3 56\\5.9 43\\6.6 32\\7.5 35\\8.6 50\\9.0 38\\9.9 32\\11.3 32\\12.5 40\\13.1 42\\14.3 26\\14.8 21\\15.5 59\\16.0 32\\16.4 27\\17.0 25\\18.0 25\\18.7 49\\19.1 69\\19.6 75\\20.1 111\\20.5 80\\21.0 157\\21.5 131\\};
\end{axis}
\begin{axis}[base,rowe,pos={416}{1017},acar,xmin=-18,xmax=465,xtick={0,100,200,300},xticklabels={0,100,200,300}]
\addplot[ln] table[x index=1,y index=0,row sep=\\]{0.7 210\\1.3 170\\1.9 152\\2.5 425\\3.2 236\\3.9 218\\4.5 150\\5.1 165\\6.0 445\\6.7 385\\7.3 300\\8.0 270\\8.7 245\\9.2 215\\9.7 185\\10.2 200\\10.8 205\\11.7 160\\12.4 130\\13.1 105\\14.0 92\\15.5 55\\16.5 30\\17.5 22\\19.2 15\\21.5 10\\};
\end{axis}
\begin{axis}[base,rowe,pos={507}{1017},wtd,xmin=-2.7,xmax=44.8,xtick={0,10,20,30,40},xticklabels={0,10,20,30,40}]
\addplot[fill=band,draw=none] coordinates {(26.2,0.5)(23.2,3.6)(41.9,5.5)(37,6.5)(39.9,7.6)(37.9,9.5)(41.9,11.7)(14.4,13.5)(26.2,15.7)(15.4,16.9)(15.4,18.5)(15.4,20.6)
(1.6,20.6)(1.6,18.5)(1.6,16.9)(10.5,15.7)(0.6,13.5)(27.1,11.7)(23.2,9.5)(26.2,7.6)(23.2,6.5)(27.1,5.5)(8.5,3.6)(12.4,0.5)};
\addplot[ln] table[x=w,y=d]{\WTDe};
\end{axis}
\begin{axis}[base,rowe,pos={598}{1017},ta]
\addplot[fill=wet,draw=none] table[x=b,y=d]{\TAe};
\addplot[fill=mid,draw=none] table[x=g,y=d]{\TAe};
\addplot[fill=dry,draw=none] table[x=r,y=d]{\TAe};
\end{axis}
\begin{axis}[base,rowe,pos={689}{1017},pm,ytick={6.7,16.6,18.45,20.1},yticklabels={2000,1750,1500,1250}]
\R{fus}{0}{95}{0.57}{5.38}\R{pol}{95}{100}{0.57}{5.38}
\R{rus}{0}{10}{5.38}{6.37}\R{fus}{10}{90}{5.38}{6.37}\R{pol}{90}{100}{5.38}{6.37}
\R{oth}{0}{5}{6.37}{7.41}\R{rus}{5}{45}{6.37}{7.41}\R{pol}{45}{95}{6.37}{7.41}\R{eri}{95}{100}{6.37}{7.41}
\R{rus}{0}{60}{7.41}{8.35}\R{pol}{60}{100}{7.41}{8.35}
\R{woo}{0}{40}{8.35}{9.3}\R{uom}{40}{50}{8.35}{9.3}\R{rus}{50}{80}{8.35}{9.3}\R{pol}{80}{100}{8.35}{9.3}
\R{rus}{0}{95}{9.3}{10.1}\R{pol}{95}{100}{9.3}{10.1}
\R{woo}{0}{30}{10.1}{11.19}\R{uom}{30}{40}{10.1}{11.19}\R{rus}{40}{90}{10.1}{11.19}\R{pol}{90}{100}{10.1}{11.19}
\R{rus}{0}{60}{11.19}{12.13}\R{fal}{60}{100}{11.19}{12.13}
\R{rus}{0}{40}{12.13}{13.17}\R{fal}{40}{100}{12.13}{13.17}
\R{rus}{0}{20}{13.17}{14.11}\R{fal}{20}{100}{13.17}{14.11}
\R{rus}{0}{95}{14.11}{15.1}\R{fal}{95}{100}{14.11}{15.1}
\R{rus}{0}{90}{15.1}{16.0}\R{rip}{90}{100}{15.1}{16.0}
\R{rip}{0}{20}{16.0}{16.94}\R{bro}{20}{100}{16.0}{16.94}
\R{rip}{0}{60}{16.94}{17.94}\R{bro}{60}{100}{16.94}{17.94}
\R{rip}{0}{100}{17.94}{21.9}
\node[rotate=-90,font=\yrf] at ([xshift=39pt]axis description cs:1,0.5) {Year CE};
\end{axis}
\begin{scope}[shift={(939pt,-1032pt)},x=1pt,y=-1pt]
\LE{bro}{0}{Brown moss spp.}\LE{eri}{1}{Ericaceae}\LE{pol}{2}{\textit{Polytrichum} spp.}\LE{fal}{3}{\textit{Sphagnum fallax}}
\LE{fus}{4}{\textit{Sphagnum fuscum}}\LE{rip}{5}{\textit{Sphagnum riparium}}\LE{rus}{6}{\textit{Sphagnum russowii}}
\LE{uom}{7}{UOM}\LE{woo}{8}{Wood}\LE{oth}{9}{Other}
\end{scope}

% ================= CAPTION =================
\node[anchor=north west,inner sep=0pt,align=left,font=\capfont\fontsize{19.5}{24}\selectfont] at (35pt,-1234pt) {%
\textbf{Figure 2.} Palaeoecological summary diagrams from all ten peat profiles, across eight sites. Data shown are: (i) loss on ignition\\
(LOI; organic matter), (ii) dry bulk density (BD), (iii) C to N quotient, (iv) apparent carbon accumulation rate (ACAR), (v)\\
water-table depth (WTD) reconstructions using a testate amoeba transfer function (Amesbury \textit{et al} \textcolor{link}{2016}) (grey shading\\
represents error based on 999 bootstrap cycles), (vi) proportion wet (blue), intermediate (grey) and dry (red) testate amoeba\\
(TA) indicators and (vii) plant macrofossil remains (volume percentages). See supplementary information for all data and plant\\
macrofossil groupings.};
\end{tikzpicture}
\end{document}
